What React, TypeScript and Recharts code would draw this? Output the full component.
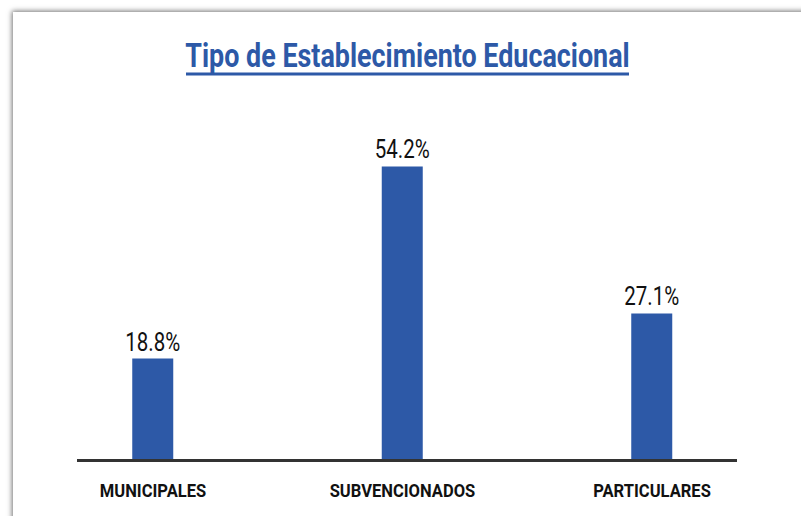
import { BarChart, Bar, XAxis, YAxis, LabelList } from 'recharts';

const categories = ['MUNICIPALES', 'SUBVENCIONADOS', 'PARTICULARES'];
const shares = [18.8, 54.2, 27.1];
const title = 'Tipo de Establecimiento Educacional';

const data = categories.map((name, i) => ({ name, value: shares[i] }));

const BLUE = '#2D59A7';
const FONT = 'Roboto, "DejaVu Sans Condensed", sans-serif';

// narrow the Roboto glyphs so they look like the condensed face of the original
const CategoryTick = (props: any) => {
    const { x, y, payload } = props;
    return (
        <text
            transform={`translate(${x},${y}) scale(0.92,1)`}
            textAnchor="middle"
            dy={14}
            fill="#111"
            fontSize={18}
            fontWeight={700}
            fontFamily={FONT}
        >
            {payload.value}
        </text>
    );
};

const ValueLabel = (props: any) => {
    const { x, y, width, value } = props;
    return (
        <text
            transform={`translate(${x + width / 2},${y - 8}) scale(0.82,1)`}
            textAnchor="middle"
            fill="#111"
            fontSize={25}
            fontFamily={FONT}
        >
            {`${value}%`}
        </text>
    );
};

const App = () => {
    return (
        <div style={{ position: 'absolute', left: 0, top: 0, width: 801, height: 516, overflow: 'hidden', background: '#fff' }}>
            <div
                style={{
                    position: 'absolute', left: 13, top: 12, width: 900, height: 600,
                    background: '#fff', boxShadow: '-1px -1px 5px rgba(0,0,0,0.55)',
                }}
            />
            <svg style={{ position: 'absolute', left: 0, top: 0 }} width={801} height={100}>
                <g transform="translate(407.5,67) scale(0.815,1)">
                    <text textAnchor="middle" fill={BLUE} fontSize={33} fontWeight={700} fontFamily={FONT}>{title}</text>
                </g>
                <rect x={186} y={72.5} width={443} height={3} fill={BLUE} />
            </svg>
            <div style={{ position: 'absolute', left: 0, top: 0 }}>
                <BarChart
                    width={801}
                    height={516}
                    data={data}
                    margin={{ top: 135, right: 64, bottom: 25.5, left: 77 }}
                >
                    <XAxis
                        dataKey="name"
                        axisLine={{ stroke: '#333', strokeWidth: 3 }}
                        tickLine={false}
                        tickSize={0}
                        tickMargin={22}
                        height={30}
                        padding={{ left: -48.75, right: -39.75 }}
                        tick={<CategoryTick />}
                        interval={0}
                    />
                    <YAxis hide domain={[0, 60]} />
                    <Bar dataKey="value" fill={BLUE} barSize={41} isAnimationActive={false}>
                        <LabelList dataKey="value" content={<ValueLabel />} />
                    </Bar>
                </BarChart>
            </div>
        </div>
    );
};

export default App;
